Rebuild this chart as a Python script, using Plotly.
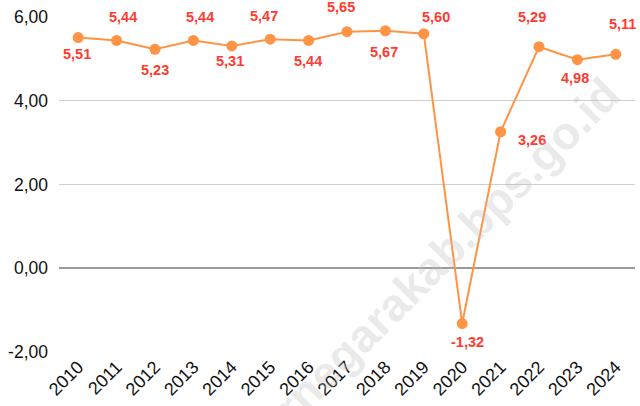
import plotly.graph_objects as go

# Annual growth (%) 2010-2024
years = ["2010", "2011", "2012", "2013", "2014", "2015", "2016", "2017",
         "2018", "2019", "2020", "2021", "2022", "2023", "2024"]
growth = [5.51, 5.44, 5.23, 5.44, 5.31, 5.47, 5.44, 5.65,
          5.67, 5.60, -1.32, 3.26, 5.29, 4.98, 5.11]
y_ticks = [-2, 0, 2, 4, 6]
y_tick_text = ["-2,00", "0,00", "2,00", "4,00", "6,00"]

# pixel offsets of each value label relative to its point (x, y-up)
label_offsets = [(-1, -16), (6, 23), (0, -21), (7, 23), (-2, -15),
                 (-6, 23), (-1, -21), (-6, 25), (-1, -21), (12, 17),
                 (5, -18), (31, -8), (-7, 30), (-2, -18), (7, 30)]

LINE = "#FF9447"
RED = "#FF3B30"
FONT = "Liberation Sans, Arial, Helvetica, sans-serif"

fig = go.Figure()
fig.add_trace(go.Scatter(
    x=years, y=growth, mode="lines+markers",
    line=dict(color=LINE, width=2),
    marker=dict(color=LINE, size=11),
    hoverinfo="skip", showlegend=False,
))

annotations = []
for i, (v, (dx, dy)) in enumerate(zip(growth, label_offsets)):
    # category axis: annotate by category index
    annotations.append(dict(
        x=i, y=v, xref="x", yref="y",
        text=f"{v:.2f}".replace(".", ","),
        showarrow=False, xshift=dx, yshift=dy,
        font=dict(family=FONT, size=14.5, color=RED, weight="bold"),
    ))

# site watermark
annotations.append(dict(
    x=0.60, y=0.175, xref="paper", yref="paper",
    xanchor="center", yanchor="middle",
    text="banjarnegarakab.bps.go.id", textangle=-45, showarrow=False,
    font=dict(family=FONT, size=46, color="rgba(190,190,190,0.33)", weight="bold"),
))

fig.update_layout(
    width=640, height=406,
    margin=dict(l=59, r=5, t=17, b=54),
    paper_bgcolor="white", plot_bgcolor="white",
    font=dict(family=FONT, size=17, color="#111111"),
    annotations=annotations,
    xaxis=dict(
        type="category", range=[-0.5, 14.5],
        tickangle=-45, showgrid=False, showline=False, zeroline=False,
        ticks="", tickfont=dict(size=18),
    ),
    yaxis=dict(
        range=[-2, 6], tickvals=y_ticks, ticktext=y_tick_text,
        showgrid=True, gridcolor="#CFCFCF", gridwidth=1,
        zeroline=True, zerolinecolor="#9A9A9A", zerolinewidth=1.5,
        showline=False, ticks="", tickfont=dict(size=17.5),
        ticklabelstandoff=10,
    ),
)

fig.write_html("out.html")
